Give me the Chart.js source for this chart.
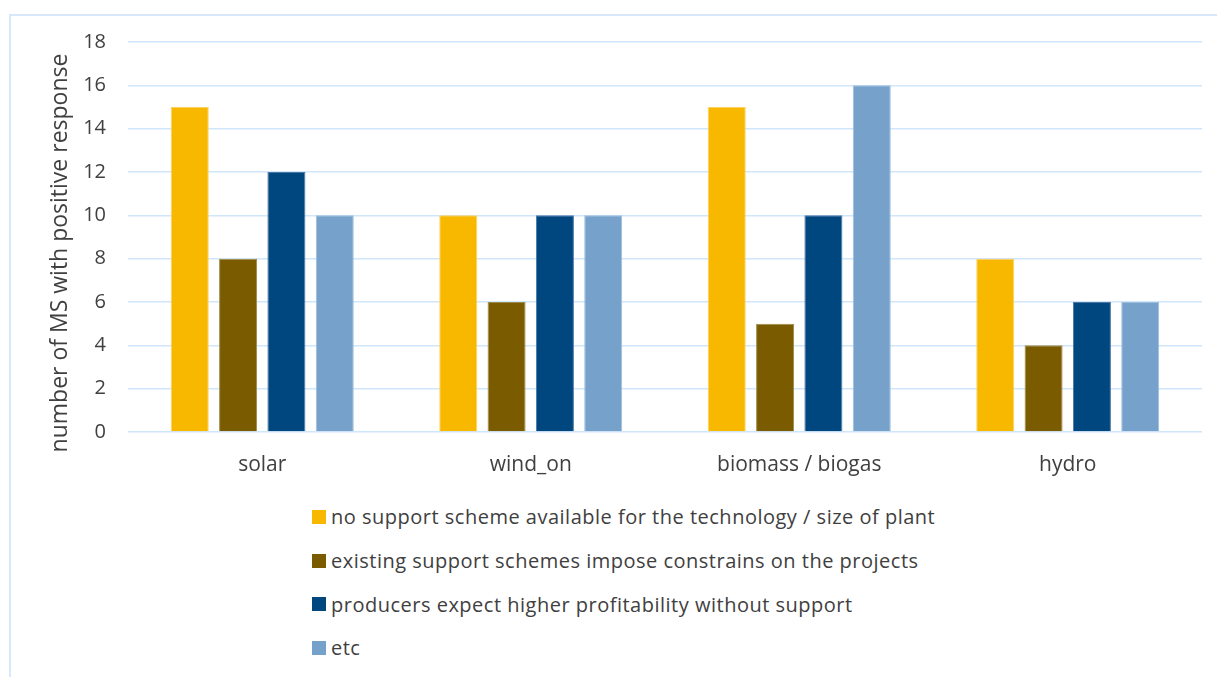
<!DOCTYPE html>
<html>
<head>
<meta charset="utf-8">
<script src="https://cdn.jsdelivr.net/npm/chart.js@4.4.1/dist/chart.umd.min.js"></script>
<style>
  html, body { margin: 0; padding: 0; background: #fff; overflow: hidden; }
  body { width: 1217px; height: 677px; position: relative; font-family: 'Open Sans', sans-serif; }
  .frame {
    position: absolute; left: 9px; top: 14px; width: 1300px; height: 720px;
    border: 2px solid #d6e8f9; box-sizing: border-box;
  }
  .chart-box { position: absolute; left: 0; top: 0; width: 1217px; height: 490px; }
  #legend { position: absolute; left: 312px; top: 495px; margin: 0; padding: 0; list-style: none; }
  #legend li { display: flex; align-items: center; height: 43.7px; font-size: 20px; letter-spacing: 0.5px; color: #404040; }
  #legend .box { width: 14px; height: 14px; margin-right: 5px; flex: none; }
</style>
</head>
<body>
<div class="frame"></div>
<div class="chart-box"><canvas id="support-chart"></canvas></div>
<ul id="legend"></ul>
<script>
// technologies on the x axis
const categories = ['solar', 'wind_on', 'biomass / biogas', 'hydro'];

// answers per reason, one value per technology
const noSchemeAvailable = [15, 10, 15, 8];
const schemeConstraints = [8, 6, 5, 4];
const higherProfitability = [12, 10, 10, 6];
const otherReasons = [10, 10, 16, 6];

const seriesLabels = [
  'no support scheme available for the technology / size of plant',
  'existing support schemes impose constrains on the projects',
  'producers expect higher profitability without support',
  'etc',
];

const yMin = 0, yMax = 18, yStep = 2;
const yTitle = 'number of MS with positive response';

const fills = ['#f8b800', '#7b5b00', '#00467f', '#75a1cb'];
const edges = ['#fbd260', '#a08a4a', '#4a77a3', '#9dbedd'];

const textColor = '#404040';
const gridColor = '#d0e6fa';

// y title sits a little below the middle of the plot, like the office chart
const yTitlePlugin = {
  id: 'yTitle',
  afterDraw(chart) {
    const { ctx, chartArea } = chart;
    ctx.save();
    ctx.translate(60, (chartArea.top + chartArea.bottom) / 2 + 16);
    ctx.rotate(-Math.PI / 2);
    ctx.font = '23px "Open Sans"';
    ctx.fillStyle = textColor;
    ctx.textAlign = 'center';
    ctx.textBaseline = 'middle';
    ctx.fillText(yTitle, 0, 0);
    ctx.restore();
  },
};

const datasets = [noSchemeAvailable, schemeConstraints, higherProfitability, otherReasons]
  .map((values, i) => ({
    label: seriesLabels[i],
    data: values,
    backgroundColor: fills[i],
    borderColor: edges[i],
    borderWidth: 1,
    categoryPercentage: 0.72,
    barPercentage: 0.787,
  }));

const chart = new Chart(document.getElementById('support-chart'), {
  type: 'bar',
  data: { labels: categories, datasets },
  plugins: [yTitlePlugin],
  options: {
    responsive: true,
    maintainAspectRatio: false,
    animation: false,
    layout: { padding: { top: 42, right: 15, bottom: 0, left: 0 } },
    plugins: { legend: { display: false }, tooltip: { enabled: false } },
    scales: {
      x: {
        grid: { display: false, drawTicks: false },
        border: { display: false },
        ticks: { color: textColor, padding: 20, font: { family: 'Open Sans', size: 21 } },
        afterFit: s => { s.height = 58; },
      },
      y: {
        min: yMin,
        max: yMax,
        ticks: { stepSize: yStep, color: textColor, padding: 22, font: { family: 'Open Sans', size: 20 } },
        grid: { color: gridColor, lineWidth: 1.6, drawTicks: false },
        border: { display: false },
        afterFit: s => { s.width = 128; },
      },
    },
  },
});

// legend stacked one entry per line under the plot
const legend = document.getElementById('legend');
chart.data.datasets.forEach(ds => {
  const li = document.createElement('li');
  li.innerHTML = `<span class="box" style="background:${ds.backgroundColor}"></span><span>${ds.label}</span>`;
  legend.appendChild(li);
});
</script>
</body>
</html>
